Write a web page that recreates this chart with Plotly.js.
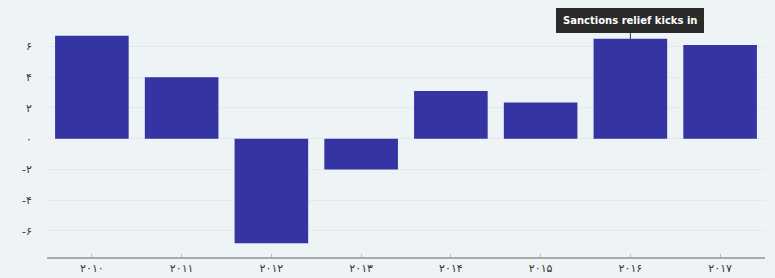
<!DOCTYPE html>
<html><head><meta charset="utf-8">
<script src="https://cdn.plot.ly/plotly-3.0.1.min.js"></script>
<style>body{margin:0;background:#eef3f6;}</style>
</head><body>
<div id="chart" style="width:775px;height:278px;"></div>
<script>
const years = ["۲۰۱۰","۲۰۱۱","۲۰۱۲","۲۰۱۳","۲۰۱۴","۲۰۱۵","۲۰۱۶","۲۰۱۷"];
const growth = [6.7, 4.0, -6.8, -2.0, 3.1, 2.35, 6.5, 6.1];
const yTickVals = [6, 4, 2, 0, -2, -4, -6];
const yTickText = ["۶","۴","۲","۰","-۲","-۴","-۶"];
const annotationText = "Sanctions relief kicks in";
const annotationIndex = 6;

Plotly.newPlot("chart", [{
  type: "bar",
  x: years,
  y: growth,
  marker: {color: "#3434a2"},
  hoverinfo: "none"
}], {
  width: 775, height: 278,
  margin: {l: 47, r: 10, t: 25, b: 21},
  paper_bgcolor: "#eef3f6",
  plot_bgcolor: "#eef3f6",
  bargap: 0.18,
  showlegend: false,
  font: {family: "DejaVu Sans", color: "#333", size: 11},
  xaxis: {
    type: "category",
    showline: true, linecolor: "#aaaaaa", linewidth: 2,
    ticks: "inside", ticklen: 3, tickcolor: "#bbbbbb",
    showgrid: false, zeroline: false,
    tickfont: {size: 11, color: "#333"}
  },
  yaxis: {
    range: [-7.7, 7.4],
    tickvals: yTickVals, ticktext: yTickText,
    showgrid: true, gridcolor: "#e3e9ed", zeroline: false,
    ticklabelstandoff: 14,
    tickfont: {size: 11, color: "#333"}
  },
  annotations: [{
    x: years[annotationIndex], y: growth[annotationIndex],
    xref: "x", yref: "y",
    text: "<b>" + annotationText + "</b>",
    showarrow: true, arrowhead: 0, arrowwidth: 1, arrowcolor: "#333",
    ax: 0, ay: -6, yanchor: "bottom",
    bgcolor: "#2b2b2b", bordercolor: "#2b2b2b", borderpad: 6,
    font: {color: "#ffffff", size: 10, family: "DejaVu Sans"}
  }]
}, {displayModeBar: false, staticPlot: true});
</script>
</body></html>
